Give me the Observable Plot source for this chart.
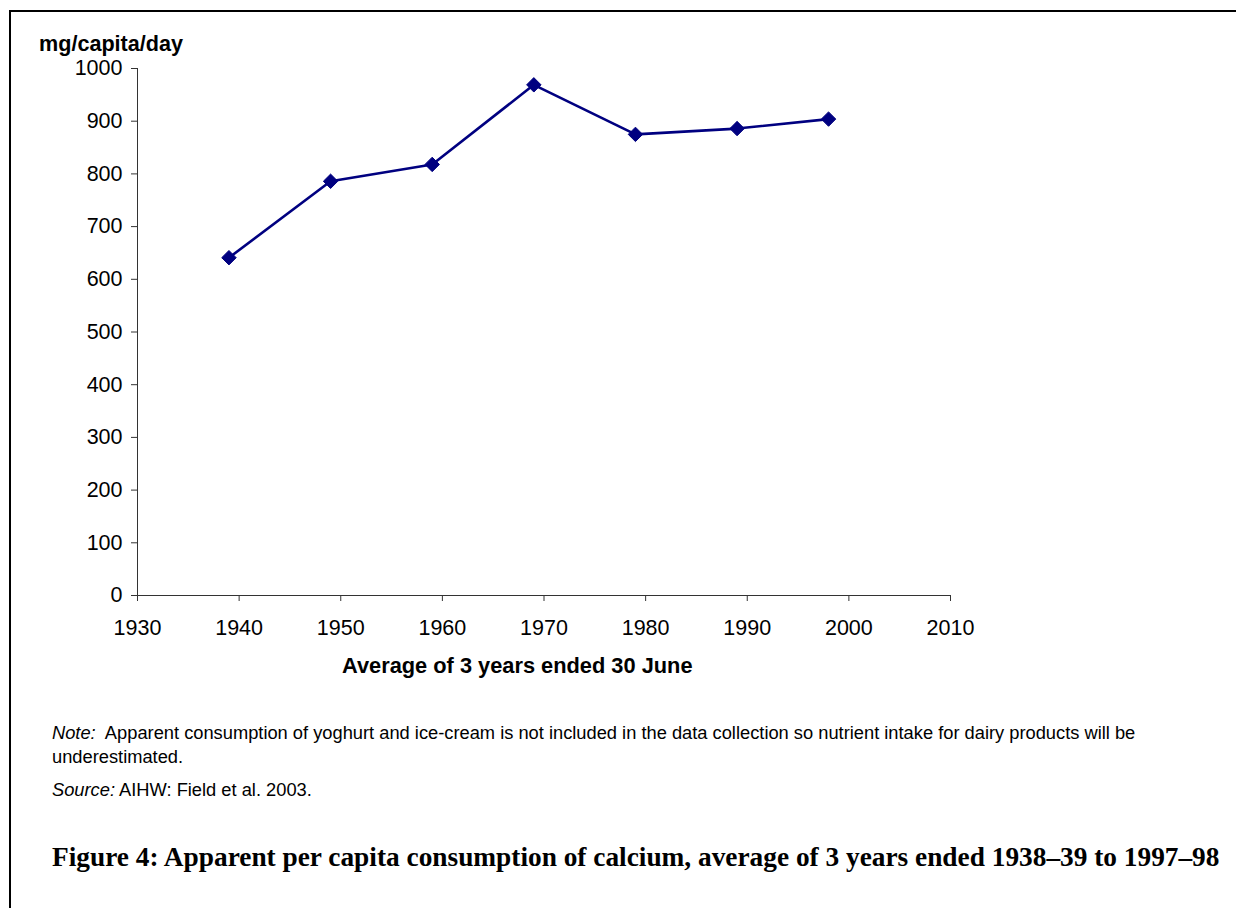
<!DOCTYPE html>
<html>
<head>
<meta charset="utf-8">
<script src="https://cdn.jsdelivr.net/npm/d3@7"></script>
<script src="https://cdn.jsdelivr.net/npm/@observablehq/plot@0.6"></script>
<style>
  html, body { margin: 0; padding: 0; background: #fff; }
  #page { position: relative; width: 1236px; height: 908px; overflow: hidden; font-family: "Liberation Sans", Arial, sans-serif; color: #000; }
  #frame { position: absolute; left: 9px; top: 10px; right: -5px; bottom: -5px; border-top: 2px solid #000; border-left: 2px solid #000; }
  #chart { position: absolute; left: 0; top: 0; }
  .lbl { position: absolute; white-space: nowrap; }
  #ytitle { left: 39px; top: 31px; font-weight: bold; font-size: 21.6px; }
  #xtitle { left: 342px; top: 653px; font-weight: bold; font-size: 21.8px; }
  #note { left: 52px; top: 721px; font-size: 18.3px; line-height: 23.5px; }
  #source { left: 52px; top: 778px; font-size: 18.3px; line-height: 23px; }
  #caption { left: 52px; top: 842px; font-family: "Liberation Serif", "Times New Roman", serif; font-weight: bold; font-size: 26px; }
</style>
</head>
<body>
<div id="page">
  <div id="frame"></div>
  <div id="chart"></div>
  <div class="lbl" id="ytitle"></div>
  <div class="lbl" id="xtitle"></div>
  <div class="lbl" id="note"><i>Note:</i>&nbsp; Apparent consumption of yoghurt and ice-cream is not included in the data collection so nutrient intake for dairy products will be<br>underestimated.</div>
  <div class="lbl" id="source"><i>Source:</i> AIHW: Field et al. 2003.</div>
  <div class="lbl" id="caption"></div>
</div>
<script>
// Data
const years = [1939, 1949, 1959, 1969, 1979, 1989, 1998];
const calcium = [641, 786, 818, 969, 875, 886, 904];
const xTicks = [1930, 1940, 1950, 1960, 1970, 1980, 1990, 2000, 2010];
const yTicks = [0, 100, 200, 300, 400, 500, 600, 700, 800, 900, 1000];
const yTitle = "mg/capita/day";
const xTitle = "Average of 3 years ended 30 June";
const captionText = "Figure 4: Apparent per capita consumption of calcium, average of 3 years ended 1938–39 to 1997–98";

const data = years.map((y, i) => ({year: y, value: calcium[i]}));

document.getElementById("ytitle").textContent = yTitle;
document.getElementById("xtitle").textContent = xTitle;
const cap = document.getElementById("caption");
cap.textContent = captionText;
// fit caption width to reference span
const targetW = 1168;
const w0 = cap.getBoundingClientRect().width;
cap.style.fontSize = (26 * targetW / w0).toFixed(2) + "px";

const navy = "#000080";
const axisColor = "#333";

const chart = Plot.plot({
  width: 1000,
  height: 700,
  marginLeft: 137,
  marginRight: 50,
  marginTop: 68,
  marginBottom: 105,
  style: {background: "transparent", fontFamily: "'Liberation Sans', Arial, sans-serif", fontSize: "21.5px", color: "#000"},
  x: {domain: [1930, 2010]},
  y: {domain: [0, 1000]},
  marks: [
    Plot.axisX({ticks: xTicks, tickSize: 6, tickPadding: 18, tickFormat: d3.format("d"), label: null, stroke: axisColor, fill: "#000"}),
    Plot.axisY({ticks: yTicks, tickSize: 6, tickPadding: 9, tickFormat: d3.format("d"), label: null, stroke: axisColor, fill: "#000"}),
    Plot.ruleX([1930], {stroke: axisColor, strokeWidth: 1}),
    Plot.ruleY([0], {stroke: axisColor, strokeWidth: 1}),
    Plot.line(data, {x: "year", y: "value", stroke: navy, strokeWidth: 2.6}),
    Plot.dot(data, {x: "year", y: "value", symbol: "diamond2", r: 6.5, fill: navy, stroke: navy, strokeWidth: 1})
  ]
});
document.getElementById("chart").appendChild(chart);
</script>
</body>
</html>
